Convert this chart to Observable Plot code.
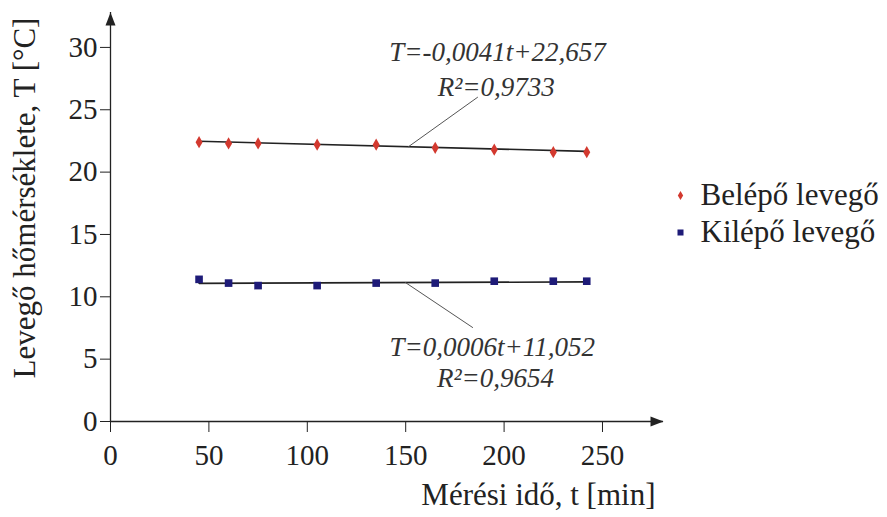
<!DOCTYPE html>
<html><head><meta charset="utf-8">
<script src="https://cdn.jsdelivr.net/npm/d3@7"></script>
<script src="https://cdn.jsdelivr.net/npm/@observablehq/plot@0.6"></script>
<style>
body{margin:0;background:#fff;}
#chart svg{display:block;font-family:"Liberation Serif","Times New Roman",serif !important;}
#chart svg text{font-family:"Liberation Serif","Times New Roman",serif !important;}
</style></head><body><div id="chart"></div>
<script>
// ---- data ----
const times = [45, 60, 75, 105, 135, 165, 195, 225, 242];
const belepo = [22.4, 22.3, 22.3, 22.2, 22.2, 21.95, 21.8, 21.6, 21.6];
const kilepo = [11.4, 11.1, 10.9, 10.9, 11.1, 11.1, 11.25, 11.25, 11.25];
const seriesNames = ["Belépő levegő", "Kilépő levegő"];
const seriesSymbols = ["diamond", "square"];
const seriesColors = ["#d3392f", "#1e1b78"];
const slopes = [-0.0041, 0.0006];
const intercepts = [22.657, 11.052];
const r2 = [0.9733, 0.9654];
const xTicks = [0, 50, 100, 150, 200, 250];
const yTicks = [0, 5, 10, 15, 20, 25, 30];
const xLabel = "Mérési idő, t [min]";
const yLabel = "Levegő hőmérséklete, T [°C]";

// ---- layout / annotation config ----
const xMax = 281, yMax = 32.8;
const eqPos = [{t: 196.6, T: 29.6}, {t: 194, T: 5.93}];
const r2Pos = [{t: 196, T: 26.8}, {t: 195.6, T: 3.45}];
const leaderFrom = [151.4, 149.9];           // t on the fit line
const leaderTo = [{t: 186.5, T: 26.0}, {t: 184, T: 7.54}];

const fmt = v => String(v).replace(".", ",");
const ink = "#222";

const seriesData = [belepo, kilepo].map((vals, k) =>
  times.map((t, i) => ({t, T: vals[i], s: seriesNames[k]})));
const fits = slopes.map((m, k) =>
  [times[0], times[times.length - 1]].map(t => ({t, T: m * t + intercepts[k]})));
const eqText = slopes.map((m, k) => `T=${fmt(m)}t+${fmt(intercepts[k])}`);
const r2Text = r2.map(v => `R²=${fmt(v)}`);
const leaders = slopes.map((m, k) => [
  {t: leaderFrom[k], T: m * leaderFrom[k] + intercepts[k]},
  leaderTo[k]
]);

const arrowHead = {
  draw(context, l, r) {
    context.moveTo(0, -l);
    context.lineTo(-r, 0);
    context.lineTo(r, 0);
    context.closePath();
  }
};

const marks = [
  Plot.ruleY([0], {x1: 0, x2: xMax, stroke: ink, strokeWidth: 1.3}),
  Plot.ruleX([0], {y1: 0, y2: yMax, stroke: ink, strokeWidth: 1.3}),
  Plot.vector([{x: xMax, y: 0}], {x: "x", y: "y", rotate: 90, length: 13, r: 5, shape: arrowHead, anchor: "end", fill: ink, stroke: "none"}),
  Plot.vector([{x: 0, y: yMax}], {x: "x", y: "y", rotate: 0, length: 13, r: 5, shape: arrowHead, anchor: "end", fill: ink, stroke: "none"}),
  Plot.axisX(xTicks, {tickSize: 11, tickPadding: 12, label: null, stroke: ink, fill: ink, fontSize: 29}),
  Plot.axisY(yTicks, {tickSize: 10, tickPadding: 3, label: null, stroke: ink, fill: ink, fontSize: 29}),
  Plot.text([xLabel], {frameAnchor: "bottom-right", dx: -8, dy: 74, textAnchor: "end", lineAnchor: "middle", fill: ink, fontSize: 31}),
  Plot.text([yLabel], {frameAnchor: "left", rotate: -90, dx: -85, dy: -19, textAnchor: "middle", lineAnchor: "middle", fill: ink, fontSize: 31}),
];

seriesData.forEach((d, k) => {
  marks.push(Plot.line(fits[k], {x: "t", y: "T", stroke: ink, strokeWidth: 1.6}));
  marks.push(Plot.dot(d, {x: "t", y: "T", symbol: seriesSymbols[k], r: k === 0 ? 3.7 : 4.3, fill: seriesColors[k], stroke: "none"}));
  marks.push(Plot.line(leaders[k], {x: "t", y: "T", stroke: "#555", strokeWidth: 1}));
  marks.push(Plot.text([eqText[k]], {x: () => eqPos[k].t, y: () => eqPos[k].T, fontStyle: "italic", fontSize: 27, fill: "#333"}));
  marks.push(Plot.text([r2Text[k]], {x: () => r2Pos[k].t, y: () => r2Pos[k].T, fontStyle: "italic", fontSize: 27, fill: "#333"}));
  marks.push(Plot.dot([seriesNames[k]], {frameAnchor: "top-right", dx: 17, dy: 183 + k * 37, symbol: seriesSymbols[k], r: k === 0 ? 2.8 : 3.4, fill: seriesColors[k], stroke: "none"}));
  marks.push(Plot.text([seriesNames[k]], {frameAnchor: "top-right", dx: 37, dy: 183 + k * 37, textAnchor: "start", lineAnchor: "middle", fill: ink, fontSize: 31}));
});

const chart = Plot.plot({
  width: 887,
  height: 517,
  marginLeft: 110,
  marginRight: 224,
  marginTop: 12,
  marginBottom: 96,
  style: {fontSize: "28px", background: "#fff", color: ink},
  x: {domain: [0, xMax]},
  y: {domain: [0, yMax]},
  marks
});
document.getElementById("chart").appendChild(chart);
</script>
</body></html>
